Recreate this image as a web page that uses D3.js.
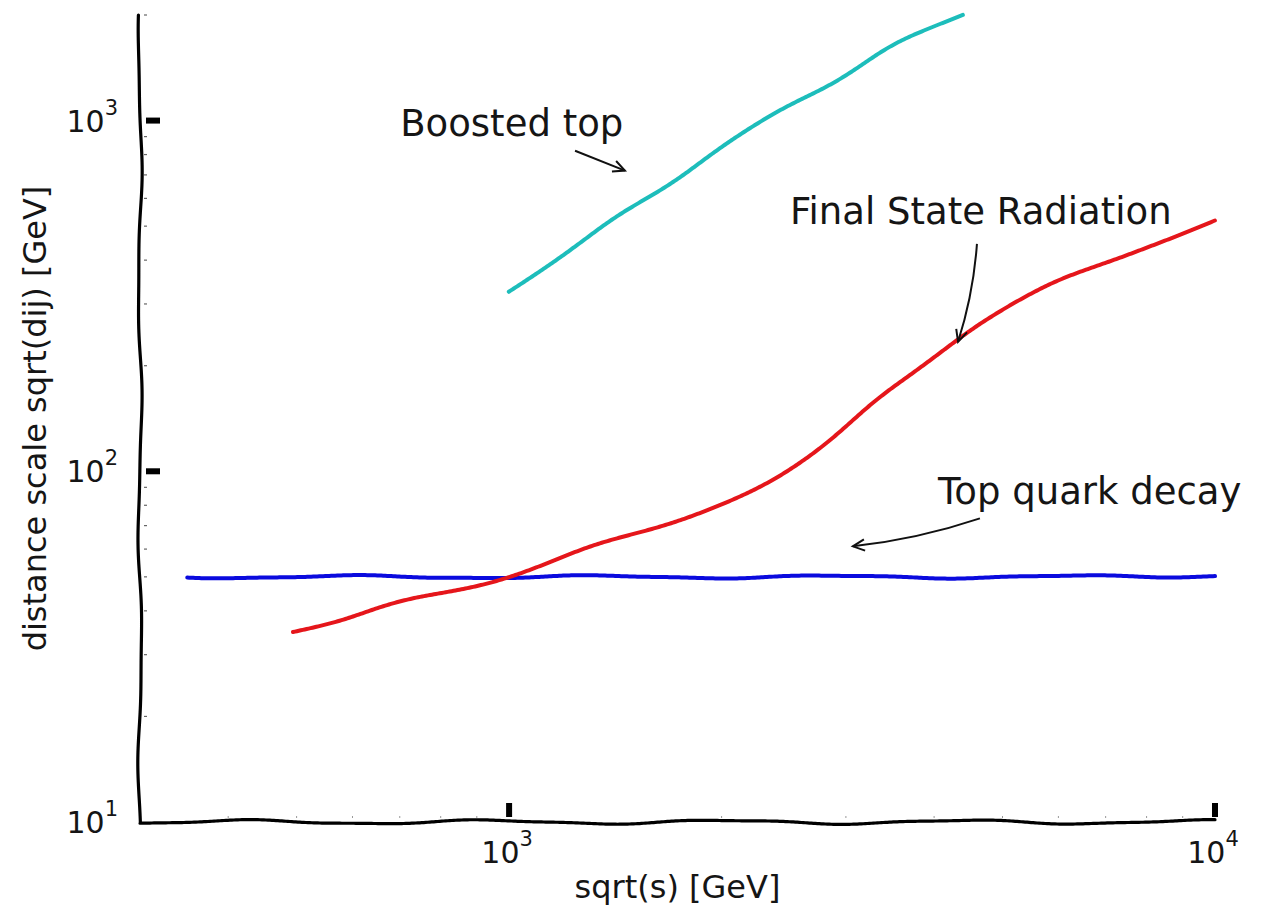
<!DOCTYPE html>
<html><head><meta charset="utf-8">
<script src="https://cdn.jsdelivr.net/npm/d3@7"></script>
<style>
body{margin:0;background:#fff}
svg{display:block}
text{font-family:"DejaVu Sans",sans-serif;fill:#151515}
</style>
</head><body>
<svg id="chart" width="1265" height="913"></svg>
<script>
// ---------------- data ----------------
const xTickValues = [1000, 10000];
const xTickBase = ["10", "10"];
const xTickExp = ["3", "4"];
const yTickValues = [10, 100, 1000];
const yTickBase = ["10", "10", "10"];
const yTickExp = ["1", "2", "3"];
const xMinorTicks = [400, 500, 600, 700, 800, 900, 2000, 3000, 4000, 5000, 6000, 7000, 8000, 9000];
const yMinorTicks = [20, 30, 40, 50, 60, 70, 80, 90, 200, 300, 400, 500, 600, 700, 800, 900, 2000];
const xLabel = "sqrt(s) [GeV]";
const yLabel = "distance scale sqrt(dij) [GeV]";

// Top quark decay (blue)
const topDecayX = [350, 500, 700, 1000, 1500, 2000, 3000, 5000, 7000, 10000];
const topDecayY = [50, 50, 50, 50, 50, 50, 50, 50, 50, 50.5];
// Final State Radiation (red)
const fsrX = [494, 576, 656, 748, 881, 1000, 1181, 1346, 1637, 1865, 2193, 2500, 2850, 3246, 3698, 4354, 4960, 6030, 7330, 8630, 10000];
const fsrY = [34.9, 37.3, 40.8, 43.9, 46.6, 49.8, 56.8, 62.2, 69.2, 75.9, 87.7, 100, 121, 155, 190, 241, 287, 354, 409, 460, 518];
// Boosted top (cyan)
const boostX = [1000, 1132, 1332, 1483, 1746, 2055, 2421, 2850, 3354, 3733, 4396];
const boostY = [324, 378, 491, 568, 683, 871, 1082, 1259, 1574, 1750, 1995];

const annText = ["Boosted top", "Final State Radiation", "Top quark decay"];
// text anchor (data coords), arrow start and arrow tip (data coords)
const annTextX = [701, 2500, 4052];
const annTextY = [906, 508, 80.6];
const annFromX = [1240, 4600, 4645];
const annFromY = [820, 445, 73.4];
const annToX = [1459, 4325, 3069];
const annToY = [720, 234, 61.1];

// ---------------- drawing ----------------
const svg = d3.select('#chart');
const x = d3.scaleLog().domain([300, 10000]).range([140, 1215]);
const y = d3.scaleLog().domain([10, 2000]).range([822, 15]);

function wig(pts, amp, seed, curve) {
  const d0 = d3.line().curve(curve || d3.curveLinear)(pts);
  const tmp = svg.append('path').attr('d', d0).attr('fill', 'none');
  const node = tmp.node(), L = node.getTotalLength();
  const n = Math.max(2, Math.ceil(L / 2));
  const s = d3.range(n + 1).map(i => { const p = node.getPointAtLength(L * i / n); return [p.x, p.y, L * i / n]; });
  tmp.remove();
  const out = s.map((p, i) => {
    const a = s[Math.max(0, i - 1)], b = s[Math.min(s.length - 1, i + 1)];
    let tx = b[0] - a[0], ty = b[1] - a[1];
    const m = Math.hypot(tx, ty) || 1; tx /= m; ty /= m;
    const off = amp * (0.78 * Math.sin(p[2] / 38 + seed) + 0.22 * Math.sin(p[2] / 17 + seed * 2.3));
    return [p[0] - ty * off, p[1] + tx * off];
  });
  return d3.line()(out);
}

// spines
const x0 = x.domain()[0], x1 = x.domain()[1], y0 = y.domain()[0], y1 = y.domain()[1];
svg.append('path').attr('d', wig([[x(x0), y(y1)], [x(x0), y(y0)]], 2.2, 0.7))
  .attr('fill', 'none').attr('stroke', '#000').attr('stroke-width', 3.2).attr('stroke-linecap', 'round');
svg.append('path').attr('d', wig([[x(x0), y(y0)], [x(x1), y(y0)]], 2.4, 1.9))
  .attr('fill', 'none').attr('stroke', '#000').attr('stroke-width', 3.2).attr('stroke-linecap', 'round');

// minor ticks
svg.selectAll('.ymin').data(yMinorTicks).join('line')
  .attr('x1', x(x0) + 4).attr('x2', x(x0) + 7).attr('y1', d => y(d)).attr('y2', d => y(d))
  .attr('stroke', '#666').attr('stroke-width', 1.2);
svg.selectAll('.xmin').data(xMinorTicks).join('line')
  .attr('x1', d => x(d)).attr('x2', d => x(d)).attr('y1', y(y0) - 4).attr('y2', y(y0) - 6)
  .attr('stroke', '#999').attr('stroke-width', 1);

// major ticks
svg.selectAll('.ymaj').data(yTickValues.filter(v => v > y0)).join('rect')
  .attr('x', x(x0) + 6).attr('y', d => y(d) - 3).attr('width', 14).attr('height', 6).attr('fill', '#000');
svg.selectAll('.xmaj').data(xTickValues).join('rect')
  .attr('x', d => x(d) - 3).attr('y', y(y0) - 19).attr('width', 6).attr('height', 14).attr('fill', '#000');

// tick labels
yTickValues.forEach((v, i) => {
  const t = svg.append('text').attr('x', 118).attr('y', y(v) + 11).attr('text-anchor', 'end');
  t.append('tspan').attr('font-size', 30).text(yTickBase[i]);
  t.append('tspan').attr('font-size', 21).attr('dy', -17).text(yTickExp[i]);
});
xTickValues.forEach((v, i) => {
  const t = svg.append('text').attr('x', x(v) - 2).attr('y', 863).attr('text-anchor', 'middle');
  t.append('tspan').attr('font-size', 30).text(xTickBase[i]);
  t.append('tspan').attr('font-size', 21).attr('dy', -17).text(xTickExp[i]);
});

// axis labels
svg.append('text').attr('x', (x(x0) + x(x1)) / 2).attr('y', 898).attr('text-anchor', 'middle')
  .attr('font-size', 32).text(xLabel);
svg.append('text').attr('transform', `translate(46,${(y(y0) + y(y1)) / 2}) rotate(-90)`)
  .attr('text-anchor', 'middle').attr('font-size', 32).text(yLabel);

// data lines
const series = [
  {xs: topDecayX, ys: topDecayY, color: '#0a0ade', seed: 0.3, amp: 1.8},
  {xs: fsrX, ys: fsrY, color: '#e5161b', seed: 2.1, amp: 1.0},
  {xs: boostX, ys: boostY, color: '#1dbdbb', seed: 4.0, amp: 1.0}
];
series.forEach(s => {
  const pts = s.xs.map((v, i) => [x(v), y(s.ys[i])]);
  svg.append('path').attr('d', wig(pts, s.amp, s.seed, d3.curveBasis))
    .attr('fill', 'none').attr('stroke', s.color).attr('stroke-width', 4)
    .attr('stroke-linecap', 'round').attr('stroke-linejoin', 'round');
});

// annotations
const bends = [0, -6, -7];
annText.forEach((txt, i) => {
  svg.append('text').attr('x', x(annTextX[i])).attr('y', y(annTextY[i])).attr('font-size', 37).text(txt);
  const p0 = [x(annFromX[i]), y(annFromY[i])], p1 = [x(annToX[i]), y(annToY[i])];
  const mx = (p0[0] + p1[0]) / 2, my = (p0[1] + p1[1]) / 2;
  let dx = p1[0] - p0[0], dy = p1[1] - p0[1];
  const L = Math.hypot(dx, dy);
  const nx = -dy / L, ny = dx / L;
  const c = [mx + nx * bends[i], my + ny * bends[i]];
  const path = d3.path();
  path.moveTo(p0[0], p0[1]);
  path.quadraticCurveTo(c[0], c[1], p1[0], p1[1]);
  svg.append('path').attr('d', path.toString()).attr('fill', 'none')
    .attr('stroke', '#111').attr('stroke-width', 2);
  // open arrow head
  const ang = Math.atan2(p1[1] - c[1], p1[0] - c[0]);
  const hl = 13, ha = 0.45;
  const h = d3.path();
  h.moveTo(p1[0] - hl * Math.cos(ang - ha), p1[1] - hl * Math.sin(ang - ha));
  h.lineTo(p1[0], p1[1]);
  h.lineTo(p1[0] - hl * Math.cos(ang + ha), p1[1] - hl * Math.sin(ang + ha));
  svg.append('path').attr('d', h.toString()).attr('fill', 'none')
    .attr('stroke', '#111').attr('stroke-width', 2).attr('stroke-linejoin', 'miter');
});
</script>
</body></html>
